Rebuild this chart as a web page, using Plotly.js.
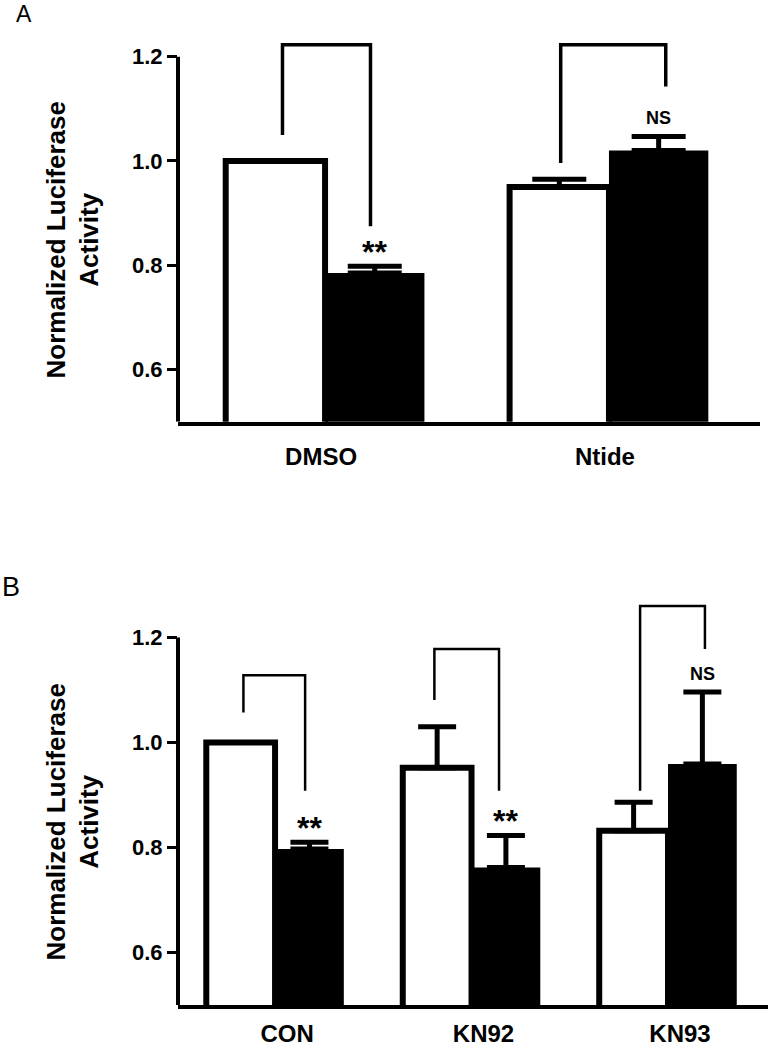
<!DOCTYPE html>
<html>
<head>
<meta charset="utf-8">
<script src="https://cdn.plot.ly/plotly-3.0.1.min.js"></script>
<style>html,body{margin:0;padding:0;background:#fff;}#chart{width:769px;height:1050px;}</style>
</head>
<body>
<div id="chart"></div>
<script>
// ---- Data ----
var categoriesA = ['DMSO', 'Ntide'];
var whiteA = [1.0, 0.95];
var whiteErrA = [0, 0.015];
var blackA = [0.785, 1.02];
var blackErrA = [0.013, 0.027];
var sigA = ['**', 'NS'];

var categoriesB = ['CON', 'KN92', 'KN93'];
var whiteB = [1.0, 0.952, 0.832];
var whiteErrB = [0, 0.078, 0.054];
var blackB = [0.797, 0.762, 0.959];
var blackErrB = [0.013, 0.061, 0.137];
var sigB = ['**', '**', 'NS'];

var yTickVals = [0.6, 0.8, 1.0, 1.2];
var yTickText = ['0.6', '0.8', '1.0', '1.2'];

// bracket annotations: [category index, left offset, right offset, left-end y, top y, right-end y]
var bracketsA = [[0, -0.15, 0.16, 1.05, 1.223, 0.875], [1, -0.17, 0.2, 0.996, 1.223, 1.143]];
var bracketsB = [[0, -0.161, 0.153, 1.057, 1.128, 0.908], [1, -0.189, 0.14, 1.081, 1.178, 0.908], [2, -0.142, 0.188, 0.908, 1.26, 1.178]];

var FONT = 'Arial, "Liberation Sans", sans-serif';

function bars(cats, vals, errs, color, lineW, xa, ya, capW) {
  return {
    type: 'bar', x: cats, y: vals, xaxis: xa, yaxis: ya,
    marker: {color: color, line: {color: '#000', width: lineW}},
    error_y: {type: 'data', symmetric: false, array: errs, arrayminus: errs.map(function(){return 0;}),
              color: '#000', thickness: 5, width: capW},
    showlegend: false, hoverinfo: 'skip'
  };
}

var data = [
  bars(categoriesA, whiteA, whiteErrA, '#fff', 6, 'x', 'y', 27),
  bars(categoriesA, blackA, blackErrA, '#000', 0, 'x', 'y', 27),
  bars(categoriesB, whiteB, whiteErrB, '#fff', 6, 'x2', 'y2', 19),
  bars(categoriesB, blackB, blackErrB, '#000', 0, 'x2', 'y2', 19)
];

var shapes = [];
function addBrackets(list, xr, yr, w) {
  list.forEach(function(b) {
    var xl = b[0] + b[1], xrr = b[0] + b[2];
    shapes.push({type: 'path', xref: xr, yref: yr, layer: 'above',
      path: 'M' + xl + ',' + b[3] + ' L' + xl + ',' + b[4] + ' L' + xrr + ',' + b[4] + ' L' + xrr + ',' + b[5],
      line: {color: '#000', width: w}});
  });
}
addBrackets(bracketsA, 'x', 'y', 3.5);
addBrackets(bracketsB, 'x2', 'y2', 2.5);
// y axis lines (stop at 1.2)
shapes.push({type: 'line', xref: 'x domain', yref: 'y', x0: 0, x1: 0, y0: 0.5, y1: 1.2, line: {color: '#000', width: 4}, layer: 'above'});
shapes.push({type: 'line', xref: 'x2 domain', yref: 'y2', x0: 0, x1: 0, y0: 0.5, y1: 1.2, line: {color: '#000', width: 4}, layer: 'above'});

var annotations = [];
function sigLabels(cats, vals, errs, sig, xr, yr) {
  cats.forEach(function(c, i) {
    var isNS = sig[i] === 'NS';
    annotations.push({xref: xr, yref: yr, x: i + 0.175, y: vals[i] + errs[i], text: '<b>' + sig[i] + '</b>',
      showarrow: false, xanchor: 'center', yanchor: 'middle', yshift: isNS ? 18 : 14,
      font: isNS ? {family: '"Liberation Sans Narrow", ' + FONT, size: 18, color: '#000'}
                 : {family: FONT, size: 32, color: '#000'}});
  });
}
sigLabels(categoriesA, blackA, blackErrA, sigA, 'x', 'y');
sigLabels(categoriesB, blackB, blackErrB, sigB, 'x2', 'y2');

var yTitle = '<b>Normalized Luciferase<br>Activity</b>';
annotations.push({xref: 'paper', yref: 'paper', x: 72.5 / 769, y: (1050 - 240) / 1050, text: yTitle, textangle: -90,
  showarrow: false, xanchor: 'center', yanchor: 'middle', font: {family: FONT, size: 26, color: '#000'}});
annotations.push({xref: 'paper', yref: 'paper', x: 72.5 / 769, y: (1050 - 822) / 1050, text: yTitle, textangle: -90,
  showarrow: false, xanchor: 'center', yanchor: 'middle', font: {family: FONT, size: 26, color: '#000'}});
annotations.push({xref: 'paper', yref: 'paper', x: 24 / 769, y: 1, text: 'A', showarrow: false, borderpad: 0,
  xanchor: 'center', yanchor: 'top', font: {family: FONT, size: 23, color: '#000'}});
annotations.push({xref: 'paper', yref: 'paper', x: 11 / 769, y: (1050 - 587) / 1050, text: 'B', showarrow: false,
  xanchor: 'center', yanchor: 'middle', font: {family: FONT, size: 27, color: '#000'}});

function yaxis(domain, top) {
  return {domain: domain, range: [0.5, top], showline: false, showgrid: false, zeroline: false,
    tickmode: 'array', tickvals: yTickVals, ticktext: yTickText, ticks: 'outside', ticklen: 10, tickwidth: 3,
    tickcolor: '#000', tickfont: {family: FONT, size: 22, color: '#000', weight: 'bold'}, fixedrange: true};
}
function xaxis(domain, range, anchor, standoff, shift) {
  return {domain: domain, range: range, anchor: anchor, type: 'category', showline: true, linewidth: 4, linecolor: '#000',
    showgrid: false, zeroline: false, ticks: '', ticklabelstandoff: standoff, ticklabelshift: shift,
    tickfont: {family: FONT, size: 24, color: '#000', weight: 'bold'}, fixedrange: true};
}

var layout = {
  width: 769, height: 1050, margin: {l: 0, r: 0, t: 0, b: 0},
  paper_bgcolor: '#fff', plot_bgcolor: '#fff',
  barmode: 'group', bargap: 0.3, bargroupgap: 0,
  xaxis: xaxis([178 / 769, 760 / 769], [-0.518, 1.532], 'y', 10, -4),
  yaxis: yaxis([(1050 - 421.7) / 1050, (1050 - 30.6) / 1050], 1.25),
  xaxis2: xaxis([178 / 769, 768 / 769], [-0.494, 2.509], 'y2', 4, 12),
  yaxis2: yaxis([45 / 1050, 454.5 / 1050], 1.28),
  shapes: shapes, annotations: annotations, showlegend: false
};

Plotly.newPlot('chart', data, layout, {displayModeBar: false, staticPlot: true});
</script>
</body>
</html>
